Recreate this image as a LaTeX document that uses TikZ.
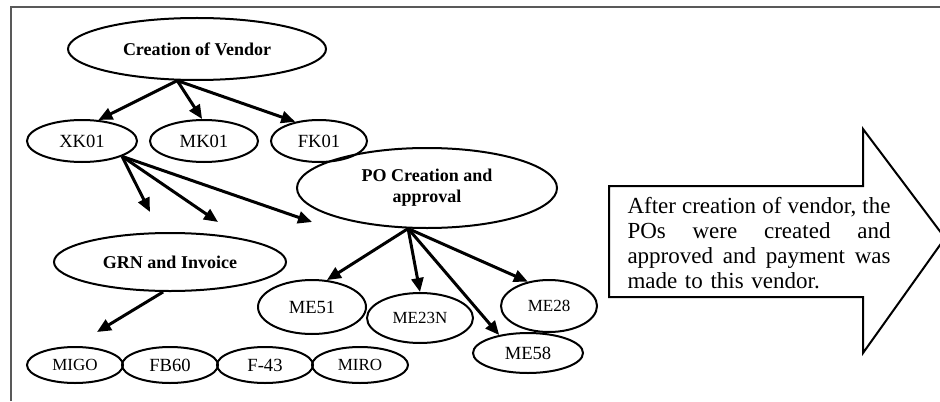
\documentclass[tikz,border=0pt]{standalone}
\usepackage{fontspec}
\setmainfont{Liberation Serif}
\usetikzlibrary{shapes.geometric,arrows.meta}
\newcommand\jline[1]{\hbox to 131.5pt{\spaceskip=0pt\xspaceskip=0pt #1}}
\begin{document}
\begin{tikzpicture}[x=0.5pt,y=-0.5pt,
  ell/.style={ellipse, draw, line width=1pt, inner sep=0pt},
  code/.style={ell, font=\fontsize{8.5}{10}\selectfont},
  bigcode/.style={ell, font=\fontsize{9.3}{10}\selectfont},
  headell/.style={ell, font=\bfseries\fontsize{9}{10.5}\selectfont, align=center},
  arr/.style={line width=1.5pt, -{Triangle[length=7pt,width=6pt]}}]
\useasboundingbox (0,0) rectangle (940,401);
\draw[gray!70!black, line width=1pt] (11,401) -- (11,7) -- (940,7);

% nodes
\node[headell, minimum width=129pt, minimum height=31pt] (cv) at (197,49) {Creation of Vendor};
\node[bigcode, minimum width=55pt, minimum height=21pt] (xk) at (82,141) {XK01};
\node[bigcode, minimum width=54pt, minimum height=21pt] (mk) at (204,141) {MK01};
\node[bigcode, minimum width=48pt, minimum height=21pt] (fk) at (319,141) {FK01};
\node[headell, minimum width=130pt, minimum height=40pt] (po) at (427,188) {PO Creation and\\approval};
\node[headell, minimum width=116pt, minimum height=29pt] (grn) at (170,262) {GRN and Invoice};
\node[bigcode, minimum width=54pt, minimum height=27pt] (me51) at (312,307) {ME51};
\node[code, minimum width=53pt, minimum height=25pt] (me23) at (420,318) {ME23N};
\node[code, minimum width=48pt, minimum height=26pt] (me28) at (549,306) {ME28};
\node[bigcode, minimum width=55pt, minimum height=20pt] (me58) at (528,353) {ME58};
\node[code, minimum width=48pt, minimum height=18pt] (migo) at (75,365) {MIGO};
\node[bigcode, minimum width=48pt, minimum height=18pt] (fb60) at (170,365) {FB60};
\node[bigcode, minimum width=48pt, minimum height=18pt] (f43) at (265,365) {F-43};
\node[code, minimum width=48pt, minimum height=18pt] (miro) at (360,365) {MIRO};

% free ends
\coordinate (x1) at (150,212);
\coordinate (x2) at (218,222);
\coordinate (x3) at (312,222);
\coordinate (g1) at (97,332);

% connectors
\draw[arr] (cv.238) -- (xk.52);
\draw[arr] (cv.238) -- (mk.95);
\draw[arr] (cv.238) -- (fk.141);
\draw[arr] (xk.339) -- (x1);
\draw[arr] (xk.339) -- (x2);
\draw[arr] (xk.339) -- (x3);
\draw[arr] (po.245) -- (me51.61);
\draw[arr] (po.245) -- (me23.90);
\draw[arr] (po.245) -- (me28.131);
\draw[arr] (po.245) -- (me58.148);
\draw[arr] (grn.257) -- (g1);

% big arrow with note
\draw[line width=1pt] (609,186) -- (863,186) -- (863,129) -- (945,238) -- (863,353) -- (863,297) -- (609,297) -- cycle;
\node[text width=131.5pt, inner sep=0pt, font=\fontsize{11.5}{12.6}\selectfont] (note) at (759,243)
 {\jline{After creation of vendor, the}
  \jline{POs were created and}
  \jline{approved and payment was}
  \hbox{made to this vendor.}};
\end{tikzpicture}
\end{document}
